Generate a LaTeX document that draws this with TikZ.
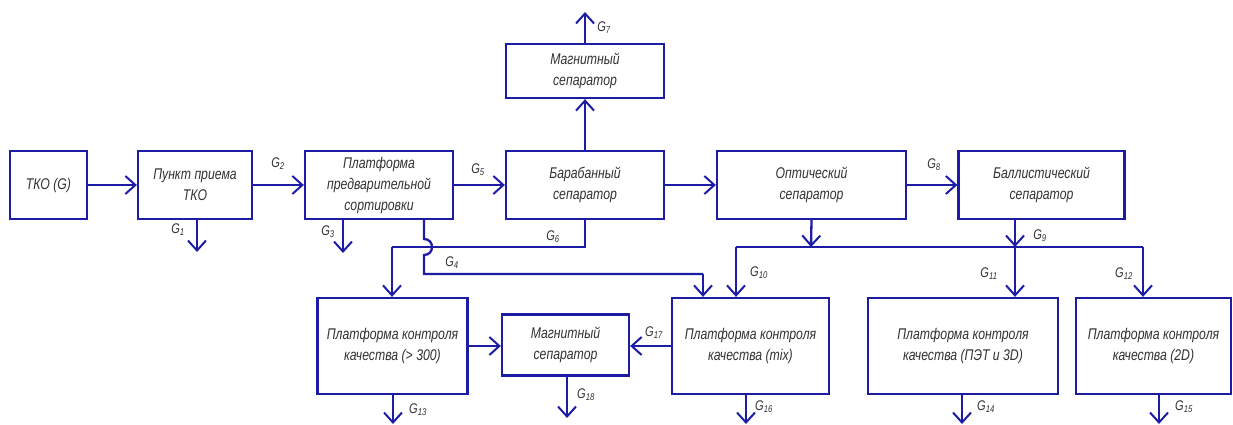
\documentclass[tikz,border=0pt]{standalone}
\usepackage{fontspec}
\setmainfont{Liberation Sans}[FakeStretch=0.79]
\usetikzlibrary{arrows.meta}
\definecolor{lineblue}{RGB}{28,28,165}
\definecolor{txt}{RGB}{50,50,50}
\begin{document}
\begin{tikzpicture}[x=1pt,y=-1pt,
  blk/.style={draw=lineblue, line width=2.3pt, inner sep=0pt, align=center, text=txt,
    font=\fontsize{15.5}{21}\selectfont\itshape},
  conn/.style={draw=lineblue, line width=2.3pt},
  arr/.style={conn, -{Straight Barb[length=10pt,width=18pt,line width=2pt]}},
  glab/.style={text=txt, inner sep=0pt, font=\fontsize{14}{14}\selectfont\itshape}]
\useasboundingbox (0,0) rectangle (1233,425);
\fill[white] (0,0) rectangle (1233,425);
% boxes
\node[blk, minimum width=77pt, minimum height=68pt] (tko) at (48.5,185) {ТКО (G)};
\node[blk, minimum width=114pt, minimum height=68pt] (punkt) at (195,185) {Пункт приема\\ТКО};
\node[blk, minimum width=148pt, minimum height=68pt] (plat) at (379,185) {Платформа\\предварительной\\сортировки};
\node[blk, minimum width=158pt, minimum height=68pt] (bar) at (585,185) {Барабанный\\сепаратор};
\node[blk, minimum width=158pt, minimum height=54pt] (magtop) at (585,71) {Магнитный\\сепаратор};
\node[blk, minimum width=189pt, minimum height=68pt] (opt) at (811.5,185) {Оптический\\сепаратор};
\node[blk, minimum width=166pt, minimum height=68pt] (ball) at (1041.5,185) {Баллистический\\сепаратор};
\node[blk, minimum width=150pt, minimum height=96pt] (q300) at (392.5,346) {Платформа контроля\\качества (> 300)};
\node[blk, minimum width=127pt, minimum height=61pt] (magbot) at (565.5,345) {Магнитный\\сепаратор};
\node[blk, minimum width=157pt, minimum height=96pt] (qmix) at (750.5,346) {Платформа контроля\\качества (mix)};
\node[blk, minimum width=190pt, minimum height=96pt] (qpet) at (963,346) {Платформа контроля\\качества (ПЭТ и 3D)};
\node[blk, minimum width=155pt, minimum height=96pt] (q2d) at (1153.5,346) {Платформа контроля\\качества (2D)};
% helper coordinates
\coordinate (xg1) at (197,0);
\coordinate (xg3) at (343,0);
\coordinate (xg4) at (424,0);
\coordinate (xg6) at (392,0);
\coordinate (xg4b) at (703,0);
\coordinate (xg10) at (736,0);
\coordinate (xg11) at (1015,0);
\coordinate (xg12) at (1143,0);
\coordinate (xg13) at (393,0);
\coordinate (xg16) at (746,0);
\coordinate (xg14) at (962,0);
\coordinate (xg15) at (1159,0);
\coordinate (xg18) at (567,0);
\coordinate (g1end) at (197,252);
\coordinate (g3end) at (343,253);
\coordinate (g7end) at (585,12);
\coordinate (j6) at (585,247);
\coordinate (j6l) at (392,247);
\coordinate (hopa) at (424,239);
\coordinate (hopb) at (424,255);
\coordinate (j4) at (424,274);
\coordinate (j4r) at (703,274);
\coordinate (jopt) at (811,247);
\coordinate (jl) at (736,247);
\coordinate (jball) at (1015,247);
\coordinate (jr) at (1143,247);
\coordinate (g13end) at (393,424);
\coordinate (g18end) at (567,418);
\coordinate (g16end) at (746,424);
\coordinate (g14end) at (962,424);
\coordinate (g15end) at (1159,424);
% main line
\draw[arr] (tko.east) -- (punkt.west);
\draw[arr] (punkt.east) -- (plat.west);
\draw[arr] (plat.east) -- (bar.west);
\draw[arr] (bar.east) -- (opt.west);
\draw[arr] (opt.east) -- (ball.west);
\draw[arr] (bar.north) -- (magtop.south);
\draw[arr] (magtop.north) -- (g7end);
\draw[arr] (punkt.south -| xg1) -- (g1end);
\draw[arr] (plat.south -| xg3) -- (g3end);
% G6
\draw[conn] (bar.south) -- (j6) -- (j6l);
\draw[arr] (j6l) -- (q300.north -| xg6);
% G4 with hop
\draw[conn] (plat.south -| xg4) -- (hopa) .. controls (434.7,239) and (434.7,255) .. (hopb) -- (j4) -- (j4r);
\draw[arr] (j4r) -- (qmix.north -| xg4b);
% optical / ballistic outputs
\draw[arr] (opt.south) -- (jopt);
\draw[conn] (jl) -- (jr);
\draw[arr] (jl) -- (qmix.north -| xg10);
\draw[arr] (ball.south -| xg11) -- (jball);
\draw[arr] (jball) -- (qpet.north -| xg11);
\draw[arr] (jr) -- (q2d.north -| xg12);
% bottom row
\draw[arr] (q300.east) -- (q300.east -| magbot.west);
\draw[arr] (qmix.west) -- (qmix.west -| magbot.east);
\draw[arr] (magbot.south -| xg18) -- (g18end);
\draw[arr] (q300.south -| xg13) -- (g13end);
\draw[arr] (qmix.south -| xg16) -- (g16end);
\draw[arr] (qpet.south -| xg14) -- (g14end);
\draw[arr] (q2d.south -| xg15) -- (g15end);
% labels
\node[glab] (l1) at (178,230) {G\textsubscript{1}};
\node[glab] (l2) at (278,164) {G\textsubscript{2}};
\node[glab] (l3) at (328,232) {G\textsubscript{3}};
\node[glab] (l4) at (452,263) {G\textsubscript{4}};
\node[glab] (l5) at (478,170) {G\textsubscript{5}};
\node[glab] (l6) at (553,237) {G\textsubscript{6}};
\node[glab] (l7) at (604,28) {G\textsubscript{7}};
\node[glab] (l8) at (934,165) {G\textsubscript{8}};
\node[glab] (l9) at (1040,236) {G\textsubscript{9}};
\node[glab] (l10) at (759,273) {G\textsubscript{10}};
\node[glab] (l11) at (989,274) {G\textsubscript{11}};
\node[glab] (l12) at (1124,274) {G\textsubscript{12}};
\node[glab] (l13) at (418,410) {G\textsubscript{13}};
\node[glab] (l14) at (986,407) {G\textsubscript{14}};
\node[glab] (l15) at (1184,407) {G\textsubscript{15}};
\node[glab] (l16) at (764,407) {G\textsubscript{16}};
\node[glab] (l17) at (654,333) {G\textsubscript{17}};
\node[glab] (l18) at (586,395) {G\textsubscript{18}};
\end{tikzpicture}
\end{document}
